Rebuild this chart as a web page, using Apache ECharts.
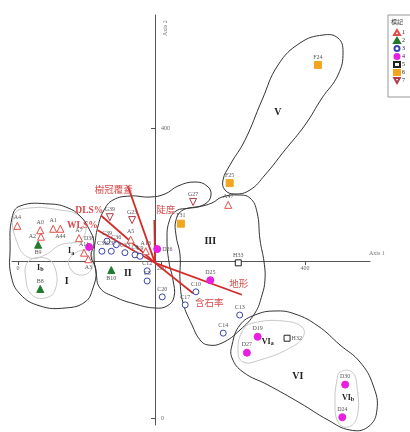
<!DOCTYPE html>
<html>
<head>
<meta charset="utf-8">
<script src="https://cdn.jsdelivr.net/npm/echarts@6/dist/echarts.min.js"></script>
<style>
  html, body { margin: 0; padding: 0; background: #fff; }
  #chart { width: 410px; height: 432px; }
</style>
</head>
<body>
<div id="chart"></div>
<script>
// Ordination centroid (where Axis 1 and Axis 2 cross), in axis units
const ORIGIN = [191, 214];
// Visible extent of both axes
const X_RANGE = [-8.4, 490.6];
const Y_RANGE = [-9.7, 555.9];
// Tick values shown on the axes
const xTicks = [0, 200, 400];
const yTicks = [0, 400];

// Legend categories (sample groups)
const groupNames = ['1', '2', '3', '4', '5', '6', '7'];

// Sample scores per group: [axis 1, axis 2, sample]
const group1 = [[-1, 265, 'A4'], [31, 259, 'A0'], [49, 261, 'A1'], [59, 261, 'A44'], [32, 250, 'A2'],
  [85, 248, 'A7'], [92, 228, 'A11'], [98, 219, 'A3'], [157, 246, 'A5'], [178, 230, 'A13'], [293, 294, 'A47']];
const group2 = [[28, 239, 'B9'], [31, 178, 'B8'], [130, 204, 'B10']];
const group3 = [[124, 244, 'C39'], [117, 230, 'C31'], [130, 230, 'C37'], [137, 239, 'C36'], [149, 228, 'C33'],
  [163, 225, 'C8'], [170, 223, 'C9'], [180, 203, 'C12'], [180, 189, 'C5'], [201, 167, 'C20'],
  [233, 156, 'C17'], [248, 174, 'C10'], [309, 142, 'C13'], [286, 117, 'C14']];
const group4 = [[99, 236, 'D38'], [194, 233, 'D26'], [268, 190, 'D25'], [334, 112, 'D19'], [319, 90, 'D27'],
  [456, 46, 'D30'], [452, 1, 'D24']];
const group5 = [[307, 214, 'H33'], [375, 110, 'H32']];
const group6 = [[418, 487, 'F24'], [295, 324, 'F25'], [227, 268, 'F31']];
const group7 = [[128, 277, 'G39'], [159, 273, 'G23'], [244, 298, 'G27']];

// Environmental vectors (biplot arrows) drawn from the centroid
const vectorNames = ['樹冠覆蓋', 'DLS%', 'WLS%', '陡度', '地形', '含石率'];
const vectorEnds = [[153, 320], [116, 279], [111, 259], [190, 273], [312, 170], [244, 172]];

// Cluster envelopes, axis units
const hullI = [[-8.4, 275.9], [2.8, 292.4], [44.6, 295.2], [69.7, 289.7], [86.4, 278.6], [99.0, 260.7],
  [105.9, 241.4], [101.7, 223.4], [108.7, 204.1], [104.5, 179.3], [93.4, 160.0], [65.5, 151.7],
  [30.7, 154.5], [2.8, 171.0], [-9.8, 197.2], [-11.1, 231.7]];
const hullII = [[107.3, 241.4], [111.5, 264.8], [119.9, 286.9], [132.4, 300.7], [156.1, 306.2], [184.0, 304.8],
  [204.9, 309.0], [223.0, 320.0], [246.7, 325.5], [263.4, 320.0], [269.0, 307.6], [260.6, 295.2],
  [239.7, 289.7], [220.2, 285.5], [210.4, 270.3], [207.7, 245.5], [210.4, 215.2], [216.0, 190.3],
  [217.4, 166.9], [207.7, 154.5], [190.9, 151.7], [163.1, 157.2], [135.2, 166.9], [114.3, 179.3],
  [108.7, 201.4], [105.9, 222.1]];
const hullIII = [[230.0, 286.9], [250.9, 291.0], [270.4, 296.6], [284.3, 304.8], [306.6, 307.6], [323.3, 303.4],
  [333.1, 284.1], [337.3, 245.5], [342.9, 215.2], [344.2, 190.3], [340.1, 169.7], [330.3, 144.8],
  [309.4, 121.4], [284.3, 103.4], [264.8, 100.7], [253.7, 107.6], [242.5, 128.3], [230.0, 158.6],
  [225.8, 190.3], [225.8, 224.8], [220.2, 252.4], [220.2, 273.1]];
const hullV = [[285.7, 328.3], [295.5, 349.0], [316.4, 383.4], [340.1, 438.6], [362.4, 486.9], [393.0, 517.2],
  [425.1, 528.3], [446.0, 524.1], [453.0, 504.8], [446.0, 473.1], [423.7, 441.4], [400.0, 404.1],
  [372.1, 369.7], [344.2, 335.2], [323.3, 314.5], [302.4, 309.0], [288.5, 314.5]];
const hullVI = [[298.3, 100.7], [309.4, 128.3], [330.3, 142.1], [358.2, 147.6], [386.1, 143.4], [418.1, 126.9],
  [448.8, 100.7], [476.6, 77.2], [494.8, 45.5], [500.3, 11.0], [487.8, -12.4], [462.7, -16.6],
  [432.0, -2.8], [393.0, 20.7], [348.4, 45.5], [313.6, 63.4], [298.3, 82.8]];
// Sub-cluster envelopes
const hullIa = [[-5.6, 280.0], [16.7, 289.7], [58.5, 286.9], [83.6, 280.0], [94.8, 264.8], [86.4, 245.5],
  [58.5, 238.6], [37.6, 224.8], [16.7, 220.7], [0, 238.6]];
const hullIb = [[13.9, 215.2], [37.6, 220.7], [51.6, 206.9], [51.6, 176.6], [37.6, 165.5], [19.5, 169.7], [11.1, 190.3]];
const hullIc = [[72.5, 220.7], [92.0, 231.7], [103.1, 223.4], [101.7, 204.1], [86.4, 197.2], [72.5, 206.9]];
const hullVIa = [[313.6, 121.4], [327.5, 131.0], [369.3, 133.8], [395.8, 125.5], [397.2, 111.7], [379.1, 96.6],
  [337.3, 80.0], [313.6, 77.2], [306.6, 93.8]];
const hullVIb = [[448.8, 63.4], [465.5, 63.4], [472.5, 42.8], [472.5, 1.4], [459.9, -12.4], [446.0, -5.5],
  [441.8, 24.8], [444.6, 52.4]];

// Cluster names and where they are written
const regionNames = ['I', 'Ia', 'Ib', 'II', 'III', 'V', 'VI', 'VIa', 'VIb'];
const regionAt = [[68, 189], [74, 230], [31, 207], [153, 200], [268, 244], [362, 422], [390, 57], [348, 105], [460, 28]];

// ---- styles ----
const SERIF = "'Liberation Serif', 'DejaVu Serif', serif";
const CJK = "'Noto Sans CJK TC', 'Noto Sans CJK SC', sans-serif";

const outerHulls = [hullI, hullII, hullIII, hullV, hullVI];
const innerHulls = [hullIa, hullIb, hullIc, hullVIa, hullVIb];

const labelPos = { A44: 'bottom', A2: 'left', B9: 'bottom', A3: 'bottom', B10: 'bottom', D26: 'right', H32: 'right' };

const vecLabel = [
  { dx: 5, dy: 3, align: 'right', font: CJK, weight: 'normal' },
  { dx: 2, dy: -5, align: 'right', font: SERIF, weight: 'bold' },
  { dx: 0, dy: -5, align: 'right', font: SERIF, weight: 'bold' },
  { dx: 2, dy: -11, align: 'left', font: CJK, weight: 'normal' },
  { dx: -3, dy: -11, align: 'center', font: CJK, weight: 'normal' },
  { dx: 2, dy: 9, align: 'left', font: CJK, weight: 'normal' }
];

const groupStyle = [
  { data: group1, symbol: 'triangle', size: 7, fill: '#fff', stroke: '#e0504a' },
  { data: group2, symbol: 'triangle', size: 7, fill: '#1f7a2e', stroke: '#1f7a2e' },
  { data: group3, symbol: 'circle', size: 6, fill: '#fff', stroke: '#3a45b0' },
  { data: group4, symbol: 'circle', size: 7, fill: '#e81ee0', stroke: '#e81ee0' },
  { data: group5, symbol: 'rect', size: 6, fill: '#fff', stroke: '#222' },
  { data: group6, symbol: 'rect', size: 7, fill: '#f2a51f', stroke: '#f2a51f' },
  { data: group7, symbol: 'path://M0,0L10,0L5,9Z', size: 7, fill: '#fff', stroke: '#b03a4a' }
];

const shift = p => [p[0] - ORIGIN[0], p[1] - ORIGIN[1]];

function samples(arr) {
  return arr.map(d => {
    const item = { name: d[2], value: shift(d) };
    if (labelPos[d[2]]) item.label = { position: labelPos[d[2]] };
    return item;
  });
}

const scatterSeries = groupStyle.map((g, i) => ({
  name: groupNames[i],
  type: 'scatter',
  z: 5,
  symbol: g.symbol,
  symbolSize: g.size,
  itemStyle: { color: g.fill, borderColor: g.stroke, borderWidth: 1, opacity: 1 },
  label: {
    show: true, formatter: '{b}', position: 'top', distance: 1,
    fontSize: 6, fontFamily: SERIF, color: '#555'
  },
  emphasis: { disabled: true },
  data: samples(g.data)
}));

function hullSeries(list, stroke, width) {
  return {
    type: 'custom',
    silent: true,
    z: 1,
    clip: false,
    data: list.map((h, i) => [i, 0]),
    encode: { x: 0, y: 1 },
    renderItem(params, api) {
      const pts = list[api.value(0)].map(p => api.coord(shift(p)));
      return {
        type: 'polygon',
        shape: { points: pts, smooth: 0.45 },
        style: { fill: 'none', stroke: stroke, lineWidth: width }
      };
    }
  };
}

const vectorSeries = {
  type: 'custom',
  silent: true,
  z: 3,
  clip: false,
  data: vectorNames.map((n, i) => [i, 0]),
  encode: { x: 0, y: 1 },
  renderItem(params, api) {
    const i = api.value(0);
    const o = api.coord([0, 0]);
    const e = api.coord(shift(vectorEnds[i]));
    const L = vecLabel[i];
    return {
      type: 'group',
      children: [
        { type: 'line', shape: { x1: o[0], y1: o[1], x2: e[0], y2: e[1] },
          style: { stroke: '#d42a2a', lineWidth: 1.8 } },
        { type: 'text', x: e[0] + L.dx, y: e[1] + L.dy,
          style: { text: vectorNames[i], fill: '#d84a4a', fontSize: 9.5, fontFamily: L.font,
                   fontWeight: L.weight, align: L.align, verticalAlign: 'middle' } }
      ]
    };
  }
};

const regionSeries = {
  type: 'custom',
  silent: true,
  z: 4,
  clip: false,
  data: regionNames.map((n, i) => [i, 0]),
  encode: { x: 0, y: 1 },
  renderItem(params, api) {
    const i = api.value(0);
    const name = regionNames[i];
    const c = api.coord(shift(regionAt[i]));
    const main = name.replace(/[ab]$/, '');
    const sub = name.length > main.length ? name.slice(main.length) : '';
    return {
      type: 'text', x: c[0], y: c[1],
      style: {
        text: '{m|' + main + '}' + (sub ? '{s|' + sub + '}' : ''),
        align: 'center', verticalAlign: 'middle',
        rich: {
          m: { fontSize: sub ? 8 : 10, fontFamily: SERIF, fontWeight: 'bold', fill: '#222' },
          s: { fontSize: 6, fontFamily: SERIF, fontWeight: 'bold', fill: '#222', padding: [4, 0, 0, 0] }
        }
      }
    };
  }
};

const GRID = { left: 12, right: 40, top: 15, bottom: 7 };
const W = 410, H = 432;

const chart = echarts.init(document.getElementById('chart'), null, { renderer: 'canvas' });
chart.setOption({
  animation: false,
  backgroundColor: '#fff',
  grid: GRID,
  xAxis: {
    type: 'value',
    position: 'bottom',
    min: X_RANGE[0] - ORIGIN[0], max: X_RANGE[1] - ORIGIN[0],
    splitLine: { show: false },
    axisLine: { onZero: false, lineStyle: { color: '#555', width: 1 } },
    axisTick: { customValues: xTicks.map(v => v - ORIGIN[0]), length: 4, lineStyle: { color: '#555' } },
    axisLabel: { customValues: xTicks.map(v => v - ORIGIN[0]), formatter: v => String(Math.round(v + ORIGIN[0])),
                 fontSize: 6, color: '#666', fontFamily: SERIF, margin: 4 }
  },
  yAxis: {
    type: 'value',
    position: 'left',
    min: Y_RANGE[0] - ORIGIN[1], max: Y_RANGE[1] - ORIGIN[1],
    splitLine: { show: false },
    axisLine: { onZero: false, lineStyle: { color: '#555', width: 1 } },
    axisTick: { customValues: yTicks.map(v => v - ORIGIN[1]), length: 4, lineStyle: { color: '#555' } },
    axisLabel: { customValues: yTicks.map(v => v - ORIGIN[1]), formatter: v => String(Math.round(v + ORIGIN[1])),
                 inside: true, fontSize: 6, color: '#666', fontFamily: SERIF, margin: 6 }
  },
  legend: {
    data: groupNames,
    orient: 'vertical',
    left: 393, top: 29,
    itemWidth: 6, itemHeight: 5, itemGap: 1,
    padding: 0,
    selectedMode: false,
    textStyle: { fontSize: 6, color: '#222', fontFamily: SERIF, lineHeight: 6, padding: [0, 0, 0, -3] }
  },
  graphic: [
    { type: 'rect', shape: { x: 388, y: 15, width: 30, height: 82 },
      style: { fill: 'none', stroke: '#999', lineWidth: 1 }, silent: true },
    { type: 'text', x: 391, y: 19, style: { text: '標記', fontSize: 6, fill: '#333', fontFamily: CJK } },
    { type: 'text', x: 369, y: 250, style: { text: 'Axis 1', fontSize: 6, fill: '#777', fontFamily: SERIF } },
    { type: 'text', x: 162, y: 36, rotation: Math.PI / 2,
      style: { text: 'Axis 2', fontSize: 6, fill: '#777', fontFamily: SERIF } }
  ],
  series: [
    hullSeries(innerHulls, '#c8c8c8', 1),
    hullSeries(outerHulls, '#333', 1),
    vectorSeries,
    regionSeries,
    ...scatterSeries
  ]
});

// Move both axes so they cross at the ordination centroid
const cross = chart.convertToPixel({ gridIndex: 0 }, [0, 0]);
chart.setOption({
  xAxis: { offset: -((H - GRID.bottom) - cross[1]) },
  yAxis: { offset: -(cross[0] - GRID.left) }
});
</script>
</body>
</html>
